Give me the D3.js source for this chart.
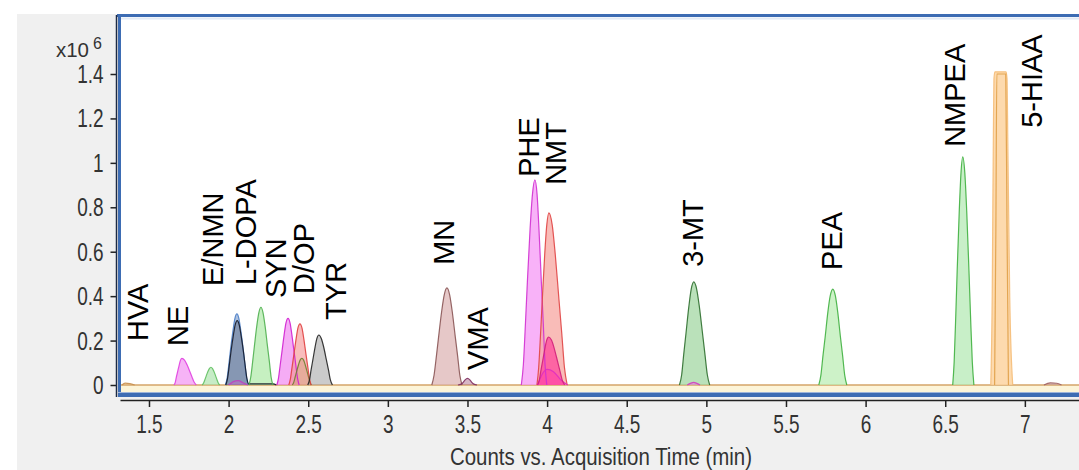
<!DOCTYPE html>
<html>
<head>
<meta charset="utf-8">
<script src="https://cdn.jsdelivr.net/npm/d3@7"></script>
<style>
  body { margin: 0; background: #fff; }
  svg { display: block; }
  .tick text { font-family: "Liberation Sans", Arial, sans-serif; fill: #333; }
  .lbl { font-family: "Liberation Sans", Arial, sans-serif; font-size: 29px; fill: #000; }
</style>
</head>
<body>
<script>
// retention time (min) / counts (x10^6)
var xTicks = [1.5, 2, 2.5, 3, 3.5, 4, 4.5, 5, 5.5, 6, 6.5, 7];
var yTicks = [0, 0.2, 0.4, 0.6, 0.8, 1, 1.2, 1.4];

var traceHVA    = [[1.33,0],[1.35,0.008],[1.38,0.006],[1.41,0]];
var traceNE     = [[1.657,0],[1.665,0.012],[1.672,0.036],[1.68,0.06],[1.69,0.091],[1.698,0.112],[1.707,0.12],[1.723,0.112],[1.739,0.091],[1.757,0.06],[1.77,0.036],[1.784,0.012],[1.797,0]];
var traceENMN   = [[1.834,0],[1.842,0.008],[1.851,0.024],[1.859,0.04],[1.87,0.061],[1.879,0.074],[1.889,0.08],[1.899,0.074],[1.908,0.061],[1.919,0.04],[1.927,0.024],[1.936,0.008],[1.944,0]];
var traceLDOPAb = [[1.98,0],[1.991,0.032],[2.002,0.096],[2.012,0.16],[2.027,0.243],[2.039,0.298],[2.052,0.32],[2.065,0.298],[2.077,0.243],[2.092,0.16],[2.102,0.096],[2.113,0.032],[2.124,0]];
var traceLDOPAk = [[1.982,0],[1.993,0.029],[2.004,0.087],[2.014,0.145],[2.029,0.22],[2.041,0.27],[2.054,0.29],[2.067,0.27],[2.079,0.22],[2.094,0.145],[2.104,0.087],[2.115,0.029],[2.126,0.005],[2.28,0.005],[2.3,0]];
var traceLDOPAm = [[2.0,0],[2.03,0.015],[2.06,0.02],[2.09,0.01],[2.12,0]];
var traceSYN    = [[2.128,0],[2.139,0.035],[2.151,0.105],[2.162,0.175],[2.177,0.266],[2.19,0.326],[2.203,0.35],[2.216,0.326],[2.229,0.266],[2.244,0.175],[2.256,0.105],[2.267,0.035],[2.278,0]];
var traceDOPm   = [[2.303,0],[2.313,0.03],[2.324,0.09],[2.335,0.15],[2.349,0.228],[2.36,0.279],[2.373,0.30],[2.386,0.279],[2.397,0.228],[2.411,0.15],[2.422,0.09],[2.433,0.03],[2.443,0]];
var traceDOPr   = [[2.378,0],[2.388,0.028],[2.399,0.083],[2.41,0.138],[2.424,0.209],[2.435,0.256],[2.448,0.275],[2.461,0.256],[2.472,0.209],[2.486,0.138],[2.497,0.083],[2.508,0.028],[2.518,0]];
var traceDOPg   = [[2.40,0],[2.409,0.012],[2.418,0.036],[2.427,0.06],[2.439,0.091],[2.449,0.112],[2.46,0.12],[2.471,0.112],[2.481,0.091],[2.493,0.06],[2.502,0.036],[2.511,0.012],[2.52,0]];
var traceTYR    = [[2.497,0],[2.508,0.023],[2.518,0.068],[2.529,0.113],[2.543,0.171],[2.554,0.209],[2.567,0.225],[2.582,0.209],[2.597,0.171],[2.614,0.113],[2.627,0.068],[2.639,0.023],[2.652,0]];
var traceMN     = [[3.276,0],[3.29,0.044],[3.305,0.131],[3.319,0.219],[3.338,0.332],[3.354,0.406],[3.371,0.437],[3.388,0.406],[3.404,0.332],[3.423,0.219],[3.438,0.131],[3.452,0.044],[3.466,0]];
var traceVMA    = [[3.44,0],[3.46,0.004],[3.473,0.012],[3.485,0.023],[3.5,0.03],[3.515,0.023],[3.527,0.012],[3.54,0.004],[3.56,0]];
var tracePHE    = [[3.838,0],[3.851,0.092],[3.864,0.277],[3.876,0.462],[3.893,0.701],[3.908,0.858],[3.923,0.923],[3.937,0.858],[3.949,0.701],[3.964,0.462],[3.976,0.277],[3.987,0.092],[3.998,0]];
var traceNMT    = [[3.936,0],[3.947,0.078],[3.959,0.233],[3.97,0.388],[3.985,0.589],[3.998,0.721],[4.011,0.775],[4.032,0.721],[4.051,0.589],[4.074,0.388],[4.092,0.233],[4.109,0.078],[4.126,0]];
var traceNMTm   = [[3.94,0],[3.97,0.05],[4.0,0.07],[4.04,0.06],[4.09,0.02],[4.13,0]];
var traceNMTp   = [[3.94,0],[3.951,0.022],[3.961,0.065],[3.972,0.108],[3.986,0.164],[3.997,0.201],[4.01,0.216],[4.028,0.201],[4.045,0.164],[4.065,0.108],[4.08,0.065],[4.095,0.022],[4.11,0]];
var trace3MT    = [[4.831,0],[4.845,0.046],[4.858,0.139],[4.872,0.232],[4.89,0.353],[4.905,0.432],[4.921,0.464],[4.939,0.432],[4.956,0.353],[4.976,0.232],[4.991,0.139],[5.006,0.046],[5.021,0]];
var trace3MTm   = [[4.88,0],[4.92,0.012],[4.96,0]];
var tracePEA    = [[5.706,0],[5.719,0.043],[5.732,0.13],[5.746,0.216],[5.763,0.328],[5.778,0.402],[5.794,0.432],[5.81,0.402],[5.825,0.328],[5.842,0.216],[5.856,0.13],[5.869,0.043],[5.882,0]];
var traceNMPEA  = [[6.547,0],[6.556,0.103],[6.566,0.308],[6.575,0.514],[6.588,0.781],[6.599,0.955],[6.61,1.027],[6.623,0.955],[6.635,0.781],[6.649,0.514],[6.659,0.308],[6.67,0.103],[6.68,0]];
var trace5HIAA  = [[6.786,0],[6.795,0.4],[6.802,1.1],[6.806,1.38],[6.812,1.41],[6.882,1.41],[6.888,1.38],[6.893,1.1],[6.905,0.4],[6.924,0]];
var trace5HIAAi = [[6.81,0],[6.818,0.7],[6.824,1.4],[6.88,1.4],[6.888,0.7],[6.897,0]];
var traceTail   = [[7.12,0],[7.16,0.01],[7.2,0.008],[7.23,0]];

var peakNames  = ['HVA','NE','E/NMN','L-DOPA','SYN','D/OP','TYR','MN','VMA','PHE','NMT','3-MT','PEA','NMPEA','5-HIAA'];
var labelTime  = [1.494, 1.745, 1.965, 2.172, 2.360, 2.536, 2.737, 3.415, 3.628, 3.948, 4.117, 4.978, 5.850, 6.622, 7.106];
var labelLevel = [0.198, 0.176, 0.446, 0.450, 0.392, 0.410, 0.293, 0.541, 0.068, 0.937, 0.901, 0.532, 0.518, 1.072, 1.158];

var traces = [traceHVA, traceNE, traceENMN, traceLDOPAb, traceLDOPAk, traceLDOPAm, traceSYN, traceDOPm, traceDOPg, traceDOPr,
              traceTYR, traceMN, traceVMA, tracePHE, traceNMT, traceNMTm, traceNMTp, trace3MT, trace3MTm, tracePEA,
              traceNMPEA, trace5HIAA, trace5HIAAi, traceTail];
// [stroke, fill, fill opacity]
var traceStyle = [
  ['#c89050', '#e0b070', 0.5], ['#e040e0', '#f080f0', 0.6], ['#60c060', '#a0e0a0', 0.6],
  ['#4c80c8', '#6c90c4', 0.55], ['#151a28', '#3c4862', 0.35], ['#c040c0', '#d060d0', 0.4],
  ['#50b050', '#a8e8a0', 0.65], ['#d020d0', '#f080f0', 0.65], ['#708030', '#a0b060', 0.5],
  ['#e04040', '#f59090', 0.6], ['#222222', '#a0a0a0', 0.55], ['#8a5555', '#dcb0b0', 0.7],
  ['#803060', '#b07090', 0.5], ['#d030d0', '#f598f5', 0.75], ['#e04545', '#f7a5a0', 0.75],
  ['#e030c0', '#ff50c8', 0.6], ['#d0207a', '#ff409a', 0.7], ['#2f6f2f', '#9cd49c', 0.7],
  ['#d040c0', '#f070e0', 0.5], ['#40b040', '#b8ecb0', 0.7], ['#40b040', '#b0e8b0', 0.7],
  ['#f5bd78', '#fdd3a0', 0.85], ['#e0a048', 'none', 0], ['#a06060', '#c09090', 0.5]
];

var w = 1079, h = 470;

var svg = d3.select('body').append('svg')
  .attr('width', w)
  .attr('height', h);

svg.append('rect')
  .attr('x', 17).attr('y', 14)
  .attr('width', w - 17).attr('height', h - 14)
  .attr('fill', '#f0f0f0');

var xScale = d3.scaleLinear().domain([1.318, 7.34]).range([120, 1079]);
var yScale = d3.scaleLinear().domain([0, 1.4]).range([385, 74]);

// plot panel
svg.append('rect')
  .attr('x', 118).attr('y', 16)
  .attr('width', w - 118).attr('height', 379)
  .attr('fill', '#fff');
svg.append('rect')
  .attr('x', 121).attr('y', yScale(0))
  .attr('width', w - 121).attr('height', 393 - yScale(0))
  .attr('fill', '#fcf4d8');
svg.append('line')
  .attr('x1', 121).attr('x2', w).attr('y1', 18.5).attr('y2', 18.5)
  .attr('stroke', '#e2eaf5').attr('stroke-width', 2);

var area = d3.area()
  .x(function(d){ return xScale(d[0]); })
  .y0(yScale(0))
  .y1(function(d){ return yScale(d[1]); })
  .curve(d3.curveMonotoneX);

var line = d3.line()
  .x(function(d){ return xScale(d[0]); })
  .y(function(d){ return yScale(d[1]); })
  .curve(d3.curveMonotoneX);

// baseline
svg.append('path')
  .attr('d', line([[1.318, 0], [7.34, 0]]))
  .attr('stroke', '#d4a468')
  .attr('stroke-width', 1.5)
  .attr('fill', 'none');

var g = svg.append('g');
g.selectAll('path.fill')
  .data(traces)
  .enter()
  .append('path')
  .attr('class', 'fill')
  .attr('d', area)
  .attr('fill', function(d, i){ return traceStyle[i][1]; })
  .attr('fill-opacity', function(d, i){ return traceStyle[i][2]; });

g.selectAll('path.trace')
  .data(traces)
  .enter()
  .append('path')
  .attr('class', 'trace')
  .attr('d', line)
  .attr('fill', 'none')
  .attr('stroke', function(d, i){ return traceStyle[i][0]; })
  .attr('stroke-width', 1.2)
  .attr('stroke-opacity', 0.9);

// panel frame
svg.append('line')
  .attr('x1', 117).attr('x2', w).attr('y1', 15.5).attr('y2', 15.5)
  .attr('stroke', '#3d6cb3').attr('stroke-width', 3);
svg.append('line')
  .attr('x1', 119.5).attr('x2', 119.5).attr('y1', 14).attr('y2', 397)
  .attr('stroke', '#3d6cb3').attr('stroke-width', 3);
svg.append('line')
  .attr('x1', 118).attr('x2', w).attr('y1', 395).attr('y2', 395)
  .attr('stroke', '#3d6cb3').attr('stroke-width', 4);
svg.append('line')
  .attr('x1', 118).attr('x2', w).attr('y1', 392.5).attr('y2', 392.5)
  .attr('stroke', '#9db4da').attr('stroke-width', 1);

// axes
var xAxis = d3.axisBottom(xScale)
  .tickValues(xTicks)
  .tickFormat(d3.format('~g'))
  .tickSize(7)
  .tickSizeOuter(0)
  .tickPadding(8);

var xg = svg.append('g')
  .attr('transform', 'translate(0,400)')
  .call(xAxis);
xg.select('.domain').attr('stroke', '#222').attr('stroke-width', 1.5);
xg.selectAll('.tick line').attr('stroke', '#222').attr('stroke-width', 1.5);
xg.selectAll('.tick text')
  .attr('font-size', 25)
  .attr('transform', 'scale(0.76,1)');

var yAxis = d3.axisLeft(yScale)
  .tickValues(yTicks)
  .tickFormat(d3.format('~g'))
  .tickSize(6)
  .tickSizeOuter(0);

var yg = svg.append('g')
  .attr('transform', 'translate(116.5,0)')
  .call(yAxis);
yg.select('.domain').remove();
yg.selectAll('.tick line').attr('stroke', '#222').attr('stroke-width', 1.5);
yg.selectAll('.tick text')
  .attr('font-size', 25)
  .attr('x', -17)
  .attr('dy', '0.34em')
  .attr('transform', 'scale(0.76,1)');

svg.append('line')
  .attr('x1', 116.5).attr('x2', 116.5).attr('y1', 15).attr('y2', 397)
  .attr('stroke', '#1c2a44').attr('stroke-width', 1.5);

// multiplier and axis title
svg.append('text')
  .attr('x', 56).attr('y', 57)
  .attr('font-family', '"Liberation Sans", Arial, sans-serif')
  .attr('font-size', 20)
  .attr('fill', '#333')
  .attr('textLength', 33)
  .attr('lengthAdjust', 'spacingAndGlyphs')
  .text('x10');
svg.append('text')
  .attr('x', 93).attr('y', 49)
  .attr('font-family', '"Liberation Sans", Arial, sans-serif')
  .attr('font-size', 16)
  .attr('fill', '#333')
  .text('6');

svg.append('text')
  .attr('x', 601).attr('y', 465)
  .attr('text-anchor', 'middle')
  .attr('font-family', '"Liberation Sans", Arial, sans-serif')
  .attr('font-size', 23)
  .attr('fill', '#333')
  .attr('textLength', 302)
  .attr('lengthAdjust', 'spacingAndGlyphs')
  .text('Counts vs. Acquisition Time (min)');

// compound labels
svg.selectAll('text.lbl')
  .data(peakNames)
  .enter()
  .append('text')
  .attr('class', 'lbl')
  .attr('transform', function(d, i){
    return 'translate(' + xScale(labelTime[i]) + ',' + yScale(labelLevel[i]) + ') rotate(-90)';
  })
  .text(function(d){ return d; });
</script>
</body>
</html>
